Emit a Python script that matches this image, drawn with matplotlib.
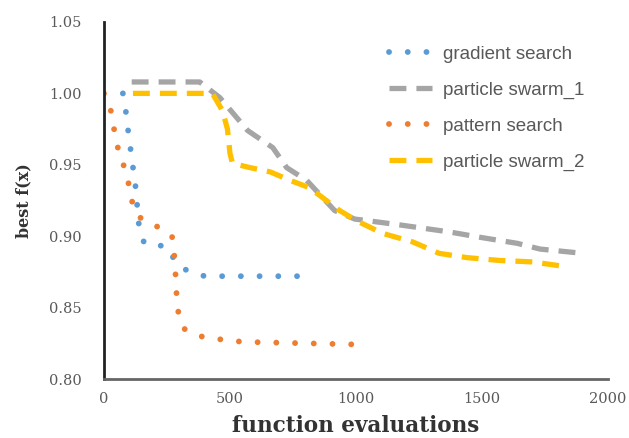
import numpy as np
import matplotlib
matplotlib.use("Agg")
import matplotlib.pyplot as plt

# data
grad_x = [75, 85, 95, 110, 125, 140, 160, 180, 250, 290, 340, 400, 500, 600, 700, 790]
grad_y = [1.000, 0.990, 0.975, 0.955, 0.935, 0.905, 0.895, 0.894, 0.893, 0.880, 0.875, 0.872, 0.872, 0.872, 0.872, 0.872]

pat_x = [0, 25, 45, 60, 90, 110, 135, 170, 220, 270, 280, 285, 290, 300, 320, 380, 450, 550, 800, 1050]
pat_y = [1.000, 0.990, 0.970, 0.958, 0.944, 0.925, 0.914, 0.910, 0.906, 0.900, 0.885, 0.870, 0.852, 0.842, 0.835, 0.830, 0.828, 0.826, 0.825, 0.824]

ps1_x = [110, 380, 460, 570, 670, 725, 805, 915, 995, 1040, 1170, 1370, 1500, 1640, 1730, 1900]
ps1_y = [1.008, 1.008, 0.997, 0.974, 0.962, 0.948, 0.939, 0.918, 0.912, 0.911, 0.908, 0.903, 0.899, 0.895, 0.891, 0.888]

ps2_x = [115, 430, 470, 490, 500, 510, 580, 660, 740, 815, 935, 1000, 1105, 1225, 1330, 1440, 1570, 1700, 1820]
ps2_y = [1.000, 1.000, 0.988, 0.975, 0.958, 0.951, 0.948, 0.945, 0.939, 0.934, 0.918, 0.911, 0.902, 0.896, 0.888, 0.885, 0.883, 0.882, 0.879]

labels = ["gradient search", "particle swarm_1", "pattern search", "particle swarm_2"]
xticks = [0, 500, 1000, 1500, 2000]
yticks = [0.80, 0.85, 0.90, 0.95, 1.00, 1.05]

fig = plt.figure(figsize=(6.29, 4.38), dpi=100)
ax = fig.add_axes([0.1653, 0.1347, 0.8013, 0.8151])

dot = (0, (0.01, 3.2))
dash = (0, (3.2, 1.9))
ax.plot(grad_x, grad_y, color="#5B9BD5", lw=4.2, linestyle=dot,
        dash_capstyle="round", label=labels[0])
ax.plot(ps1_x, ps1_y, color="#A5A5A5", lw=3.8, linestyle=dash,
        dash_capstyle="butt", label=labels[1])
ax.plot(pat_x, pat_y, color="#ED7D31", lw=4.2, linestyle=dot,
        dash_capstyle="round", label=labels[2])
ax.plot(ps2_x, ps2_y, color="#FFC000", lw=3.8, linestyle=dash,
        dash_capstyle="butt", label=labels[3])

ax.set_xlim(0, 2000)
ax.set_ylim(0.80, 1.05)
ax.set_xticks(xticks)
ax.set_yticks(yticks)
ax.set_yticklabels(["%.2f" % v for v in yticks])
ax.tick_params(length=0, labelcolor="#595959", labelsize=10.5)
ax.tick_params(axis="y", pad=16)
ax.tick_params(axis="x", pad=9)
for lab in ax.get_xticklabels() + ax.get_yticklabels():
    lab.set_family("DejaVu Serif")

for s in ["top", "right"]:
    ax.spines[s].set_visible(False)
ax.spines["left"].set_color("#222222")
ax.spines["left"].set_linewidth(2)
ax.spines["bottom"].set_color("#666666")
ax.spines["bottom"].set_linewidth(2)

ax.set_xlabel("function evaluations", family="DejaVu Serif", fontweight="bold",
              fontsize=15.5, color="#333333", labelpad=7)
ax.set_ylabel("best f(x)", family="DejaVu Serif", fontweight="bold",
              fontsize=11.5, color="#333333", labelpad=12)

leg = ax.legend(loc="upper left", bbox_to_anchor=(0.565, 0.934), frameon=False,
                borderaxespad=0, borderpad=0,
                handlelength=2.3, labelspacing=1.0, handletextpad=0.6,
                prop={"family": "Liberation Sans", "size": 13.5})
for t in leg.get_texts():
    t.set_color("#595959")

fig.savefig("out.png", dpi=100)
